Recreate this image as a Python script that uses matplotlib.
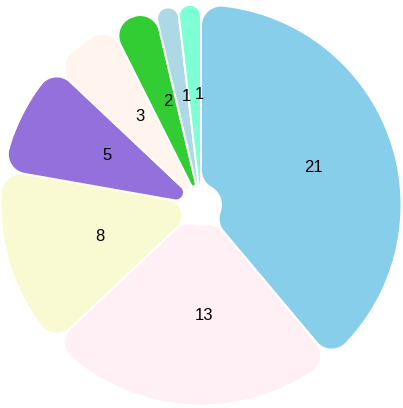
import matplotlib
matplotlib.use("Agg")
import matplotlib.pyplot as plt
import numpy as np
from matplotlib.patches import Polygon

# data (clockwise from 12 o'clock)
values = [21, 13, 8, 5, 3, 2, 1, 1]
colors = ["#87CEEB", "#FFF0F5", "#FAFAD2", "#9370DB",
          "#FFF5EE", "#32CD32", "#ADD8E6", "#7FFFD4"]

W, H = 403, 408
CX, CY = 201, 205          # pie centre in pixels
R_OUT = 200.5
R_IN = 20
CORNER = 20                # rounded corner radius
BORDER_PX = 2


def polar(r, a):
    return np.array([r * np.cos(a), r * np.sin(a)])


def corner_arc(c, p1, p2, rc, n=24):
    f1 = np.arctan2(*(p1 - c)[::-1])
    f2 = np.arctan2(*(p2 - c)[::-1])
    d = (f2 - f1 + np.pi) % (2 * np.pi) - np.pi
    t = f1 + np.linspace(0, 1, n) * d
    return np.column_stack([c[0] + rc * np.cos(t), c[1] + rc * np.sin(t)])


def arc(r, a0, a1, n=80):
    t = np.linspace(a0, a1, n)
    return np.column_stack([r * np.cos(t), r * np.sin(t)])


def rounded_sector(lo, hi):
    h = (hi - lo) / 2
    s = np.sin(h)
    rc_o = min(CORNER, (R_OUT - R_IN) / 2, R_OUT * s / (1 + s))
    rc_i = min(CORNER, (R_OUT - R_IN) / 2, R_IN * s / (1 - s))
    do = np.arcsin(rc_o / (R_OUT - rc_o))
    di = np.arcsin(rc_i / (R_IN + rc_i))
    ro_line = np.sqrt((R_OUT - rc_o) ** 2 - rc_o ** 2)
    ri_line = np.sqrt((R_IN + rc_i) ** 2 - rc_i ** 2)

    parts = []
    # outer arc
    parts.append(arc(R_OUT, lo + do, hi - do))
    # outer corner at hi
    parts.append(corner_arc(polar(R_OUT - rc_o, hi - do),
                            polar(R_OUT, hi - do), polar(ro_line, hi), rc_o))
    # inner corner at hi
    parts.append(corner_arc(polar(R_IN + rc_i, hi - di),
                            polar(ri_line, hi), polar(R_IN, hi - di), rc_i))
    # inner arc
    parts.append(arc(R_IN, hi - di, lo + di, 20))
    # inner corner at lo
    parts.append(corner_arc(polar(R_IN + rc_i, lo + di),
                            polar(R_IN, lo + di), polar(ri_line, lo), rc_i))
    # outer corner at lo
    parts.append(corner_arc(polar(R_OUT - rc_o, lo + do),
                            polar(ro_line, lo), polar(R_OUT, lo + do), rc_o))
    pts = np.vstack(parts)
    # to pixel coords (y down)
    return np.column_stack([CX + pts[:, 0], CY - pts[:, 1]])


fig = plt.figure(figsize=(W / 100, H / 100), dpi=100)
ax = fig.add_axes([0, 0, 1, 1])
ax.set_xlim(0, W)
ax.set_ylim(H, 0)
ax.axis("off")

total = sum(values)
cum = np.concatenate([[0], np.cumsum(values)])
starts = np.radians(90 - 360 * cum[:-1] / total)
ends = np.radians(90 - 360 * cum[1:] / total)

for v, c, hi, lo in zip(values, colors, starts, ends):
    poly = Polygon(rounded_sector(lo, hi), closed=True, facecolor=c,
                   edgecolor="white", linewidth=BORDER_PX * 0.72,
                   joinstyle="round")
    ax.add_patch(poly)
    mid = (lo + hi) / 2
    r_lab = (R_IN + R_OUT) / 2
    ax.text(CX + r_lab * np.cos(mid), CY - r_lab * np.sin(mid), str(v),
            ha="left", va="center", fontsize=12,
            family=["Liberation Sans", "DejaVu Sans"], color="black")

fig.savefig("out.png", dpi=100)
